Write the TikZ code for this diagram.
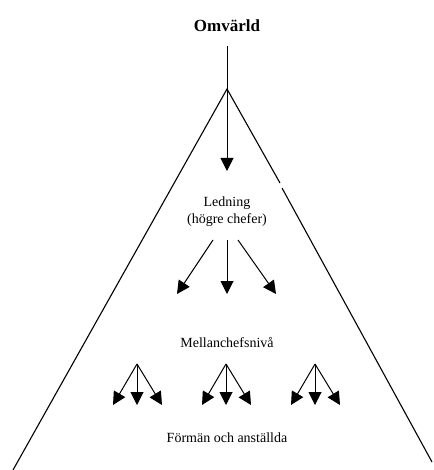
\documentclass[tikz,border=0pt]{standalone}
\usepackage{fontspec}
\setmainfont{Liberation Serif}
\usetikzlibrary{arrows.meta}
\begin{document}
\begin{tikzpicture}[x=1pt,y=-1pt,
  edge/.style={line width=1.1pt},
  flow/.style={line width=1pt,-{Triangle[length=13pt,width=13pt]}},
  label/.style={anchor=base,inner sep=0pt,font=\fontsize{14}{16}\selectfont},
  title/.style={anchor=base,inner sep=0pt,font=\fontsize{17}{20}\selectfont\bfseries}]
\useasboundingbox (0,0) rectangle (433,470);

% texts
\node[title] (omv) at (227,31.5) {Omvärld};
\node[label] (led) at (227,206) {Ledning};
\node[label] (hog) at (227,223.5) {(högre chefer)};
\node[label] (mel) at (227,347) {Mellanchefsnivå};
\node[label] (for) at (227,442) {Förmän och anställda};

% pyramid outline
\coordinate (apex) at (227,89);
\coordinate (lfoot) at (13,470);
\coordinate (rbreakA) at (280,183);
\coordinate (rbreakB) at (282,188);
\coordinate (rfoot) at (432,462);
\draw[edge] (lfoot) -- (apex) -- (rbreakA);
\draw[edge] (rbreakB) -- (rfoot);

% from the environment down to the top management
\coordinate (top) at (227,46);
\coordinate (topend) at (227,171);
\draw[flow] (top) -- (topend);

% top management to middle managers
\coordinate (m1) at (213,240);
\coordinate (m2) at (227,240);
\coordinate (m3) at (238,240);
\coordinate (t1) at (177,294);
\coordinate (t2) at (227,294);
\coordinate (t3) at (276,294);
\draw[flow] (m1) -- (t1);
\draw[flow] (m2) -- (t2);
\draw[flow] (m3) -- (t3);

% middle managers to foremen and employees
\foreach \n/\x in {a/137,b/226,c/315}{
  \coordinate (g\n) at (\x,364);
  \coordinate (g\n l) at (\x-24,405);
  \coordinate (g\n m) at (\x,405);
  \coordinate (g\n r) at (\x+25,405);
  \draw[flow] (g\n) -- (g\n l);
  \draw[flow] (g\n) -- (g\n m);
  \draw[flow] (g\n) -- (g\n r);
}
\end{tikzpicture}
\end{document}
